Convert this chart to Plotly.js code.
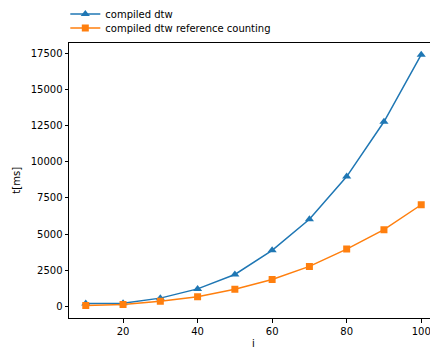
<!DOCTYPE html>
<html>
<head>
<meta charset="utf-8">
<script src="https://cdn.plot.ly/plotly-3.0.1.min.js"></script>
<style>
html,body{margin:0;padding:0;overflow:hidden;background:#fff;}
#chart{width:440px;height:351px;}
</style>
</head>
<body>
<div id="chart"></div>
<script>
const iValues = [10, 20, 30, 40, 50, 60, 70, 80, 90, 100];
const compiledDtw = [180, 210, 560, 1200, 2200, 3870, 6020, 8980, 12780, 17430];
const compiledDtwRefCounting = [50, 110, 340, 650, 1180, 1850, 2760, 3960, 5300, 7030];
const seriesNames = ["compiled dtw", "compiled dtw reference counting"];
const xTicks = [20, 40, 60, 80, 100];
const yTicks = [0, 2500, 5000, 7500, 10000, 12500, 15000, 17500];

const traces = [
  {
    x: iValues, y: compiledDtw, name: seriesNames[0], type: "scatter", mode: "lines+markers",
    legend: "legend",
    line: {color: "#1f77b4", width: 1.5},
    marker: {symbol: "triangle-up", size: 8, color: "#1f77b4"}
  },
  {
    x: iValues, y: compiledDtwRefCounting, name: seriesNames[1], type: "scatter", mode: "lines+markers",
    legend: "legend2",
    line: {color: "#ff7f0e", width: 1.5},
    marker: {symbol: "square", size: 7, color: "#ff7f0e"}
  }
];

const axisCommon = {
  showgrid: false, zeroline: false, showline: true, mirror: true,
  linecolor: "#000", linewidth: 1, ticks: "outside", ticklen: 3.5, tickwidth: 1,
  tickcolor: "#000", tickfont: {family: "DejaVu Sans", size: 10, color: "#000"}
};

const legendFont = {family: "DejaVu Sans", size: 10, color: "#000"};

const layout = {
  width: 440, height: 351,
  margin: {l: 69, r: 2, t: 41, b: 33},
  paper_bgcolor: "#fff", plot_bgcolor: "#fff",
  font: {family: "DejaVu Sans", size: 10, color: "#000"},
  showlegend: true,
  legend: {
    x: -0.01, xanchor: "left", yref: "container", y: 0.960, yanchor: "middle",
    font: legendFont, bgcolor: "rgba(0,0,0,0)", itemwidth: 30
  },
  legend2: {
    x: -0.01, xanchor: "left", yref: "container", y: 0.920, yanchor: "middle",
    font: legendFont, bgcolor: "rgba(0,0,0,0)", itemwidth: 30
  },
  xaxis: Object.assign({}, axisCommon, {
    range: [5.5, 104.5], tickvals: xTicks, ticktext: xTicks.map(String),
    title: {text: "i", font: {family: "DejaVu Sans", size: 10, color: "#000"}, standoff: 4}
  }),
  yaxis: Object.assign({}, axisCommon, {
    range: [-817, 18267], tickvals: yTicks, ticktext: yTicks.map(String),
    title: {text: "t[ms]", font: {family: "DejaVu Sans", size: 10, color: "#000"}, standoff: 8}
  })
};

Plotly.newPlot("chart", traces, layout, {displayModeBar: false, staticPlot: true});
</script>
</body>
</html>
